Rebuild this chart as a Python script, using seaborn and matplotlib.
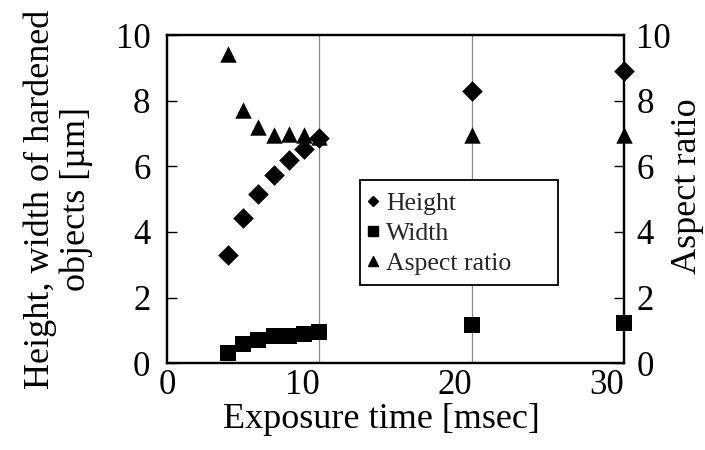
import matplotlib
matplotlib.use("Agg")
import matplotlib.pyplot as plt
import seaborn as sns
import pandas as pd
from matplotlib.lines import Line2D
from matplotlib.patches import Rectangle

exposure = [4, 5, 6, 7, 8, 9, 10, 20, 30]
height = [3.3, 4.42, 5.15, 5.73, 6.2, 6.52, 6.85, 8.3, 8.9]
width = [0.3, 0.58, 0.7, 0.82, 0.82, 0.88, 0.95, 1.16, 1.23]
aspect = [9.42, 7.73, 7.2, 6.95, 7.0, 6.95, 6.9, 6.95, 6.95]
xtick_values = [0, 10, 20, 30]
ytick_values = [0, 2, 4, 6, 8, 10]
legend_labels = ["Height", "Width", "Aspect ratio"]

sns.set_theme(style="white")
plt.rcParams['font.family'] = ['Liberation Serif', 'DejaVu Serif']

fig = plt.figure(figsize=(7.05, 4.5), dpi=100)
ax = fig.add_axes([0.237, 0.193, 0.648, 0.729])
ax2 = ax.twinx()

df = pd.DataFrame({"x": exposure, "h": height, "w": width, "a": aspect})

sns.scatterplot(data=df, x="x", y="h", ax=ax, marker="D", s=110, color="black",
                edgecolor="black", linewidth=0, zorder=4, legend=False, clip_on=False)
sns.scatterplot(data=df, x="x", y="w", ax=ax, marker="s", s=135, color="black",
                edgecolor="black", linewidth=0, zorder=4, legend=False, clip_on=False)
sns.scatterplot(data=df, x="x", y="a", ax=ax2, marker="^", s=140, color="black",
                edgecolor="black", linewidth=0, zorder=4, legend=False, clip_on=False)

for a in (ax, ax2):
    a.set_xlim(0, 30)
    a.set_ylim(0, 10)
    a.set_yticks(ytick_values)
    for sp in a.spines.values():
        sp.set_visible(True)
        sp.set_color("black")
        sp.set_linewidth(1.6)

ax.set_xticks(xtick_values)
for xv in xtick_values[1:-1]:
    ax.axvline(xv, color="#888888", lw=0.9, zorder=1)

ax.tick_params(axis="x", length=0, labelsize=25, pad=4, colors="black")
for lab in ax.get_xticklabels()[1:]:
    lab.set_horizontalalignment("right")

ax.tick_params(axis="y", direction="in", length=7, width=1, labelsize=25, pad=12,
               left=True, colors="black")
ax2.tick_params(axis="y", direction="in", length=7, width=1, labelsize=25, pad=9,
                right=True, colors="black")

ax.set_xlabel("Exposure time [msec]", fontsize=26, color="black")
ax.xaxis.set_label_coords(0.469, -0.12)
ax.set_ylabel("Height, width of hardened\nobjects [µm]", fontsize=26,
              color="black", linespacing=1.1)
ax.yaxis.set_label_coords(-0.162, 0.5)
ax2.set_ylabel("Aspect ratio", fontsize=26, color="black")
ax2.yaxis.set_label_coords(1.102, 0.54)

# legend box
ax2.add_patch(Rectangle((0.422, 0.238), 0.434, 0.32, transform=ax2.transAxes,
                        fill=True, facecolor="white", edgecolor="black", lw=1.3,
                        zorder=5))
handles = [
    Line2D([], [], marker="D", color="black", ls="none", markersize=5.5),
    Line2D([], [], marker="s", color="black", ls="none", markersize=6.5),
    Line2D([], [], marker="^", color="black", ls="none", markersize=6.5),
]
leg = ax2.legend(handles, legend_labels, loc="upper left",
                 bbox_to_anchor=(0.418, 0.538), frameon=False,
                 fontsize=18.5, handletextpad=0.1,
                 handlelength=0.8, borderpad=0.2, labelspacing=0.28,
                 borderaxespad=0)
leg.set_zorder(6)

fig.savefig("out.png", dpi=100)
